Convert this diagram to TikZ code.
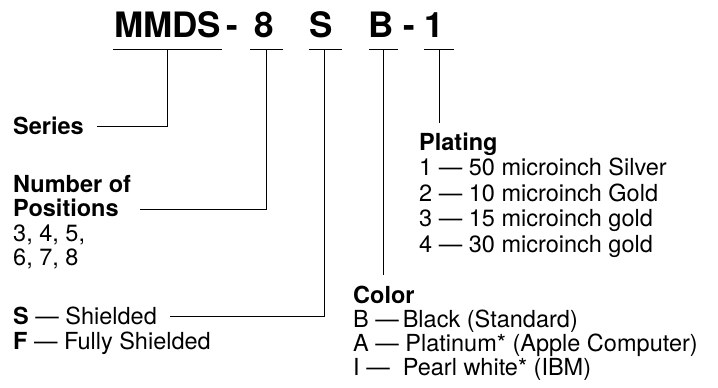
\documentclass[tikz,border=0pt]{standalone}
\usepackage{fontspec}
\setmainfont{TeX Gyre Heros}
\begin{document}
\begin{tikzpicture}[x=1pt,y=-1pt,
  title/.style={inner sep=0, anchor=base, font=\fontsize{35}{40}\selectfont\bfseries},
  lbl/.style={inner sep=0, anchor=base west, font=\fontsize{23.5}{25}\selectfont},
  hd/.style={inner sep=0, anchor=base west, font=\fontsize{23.5}{25}\selectfont\bfseries},
  ln/.style={line width=0.85pt}]
\useasboundingbox (0,0) rectangle (718,388);
% title segments
\node[title] (tM) at (167.5,37) {MMDS};
\node[title] (td1) at (232.5,37) {-};
\node[title] (t8) at (264,37) {8};
\node[title] (tS) at (321,37) {S};
\node[title] (tB) at (381,37) {B};
\node[title] (td2) at (409,37) {-};
\node[title] (t1) at (434,37) {1};
% underlines
\coordinate (uM) at (167,49);
\coordinate (u8) at (266,49);
\coordinate (uS) at (324,49);
\coordinate (uB) at (383,49);
\coordinate (u1) at (439,49);
\draw[ln] (113,49) -- (222,49);
\draw[ln] (250,49) -- (283,49);
\draw[ln] (309,49) -- (342,49);
\draw[ln] (369,49) -- (398,49);
\draw[ln] (424,49) -- (454,49);
% labels
\node[hd] (series) at (13,134) {Series};
\node[hd] (num) at (13,192) {Number of};
\node[hd] (pos) at (13,216.5) {Positions};
\node[lbl] (p1) at (13,241) {3, 4, 5,};
\node[lbl] (p2) at (13,265.5) {6, 7, 8};
\node[lbl] (sh) at (13,324.5) {\textbf{S} — Shielded};
\node[lbl] (fs) at (13,349) {\textbf{F} — Fully Shielded};
\node[hd] (plat) at (419,150) {Plating};
\node[lbl] (pl1) at (419,175.5) {1 — 50 microinch Silver};
\node[lbl] (pl2) at (419,201) {2 — 10 microinch Gold};
\node[lbl] (pl3) at (419,226.5) {3 — 15 microinch gold};
\node[lbl] (pl4) at (419,252) {4 — 30 microinch gold};
\node[hd] (col) at (353,303.5) {Color};
\node[lbl] (c1) at (353,327.5) {B —\,Black (Standard)};
\node[lbl] (c2) at (353,351.5) {A — Platinum* (Apple Computer)};
\node[lbl] (c3) at (353,375.5) {I — \ Pearl white* (IBM)};
% connectors
\coordinate (eSer) at (97,126);
\coordinate (ePos) at (140,209);
\coordinate (eSh) at (170,316);
\draw[ln] (uM) |- (eSer);
\draw[ln] (u8) |- (ePos);
\draw[ln] (uS) |- (eSh);
\coordinate (eB) at (383,275);
\coordinate (e1) at (439,123);
\draw[ln] (uB) -- (eB);
\draw[ln] (u1) -- (e1);
\end{tikzpicture}
\end{document}
